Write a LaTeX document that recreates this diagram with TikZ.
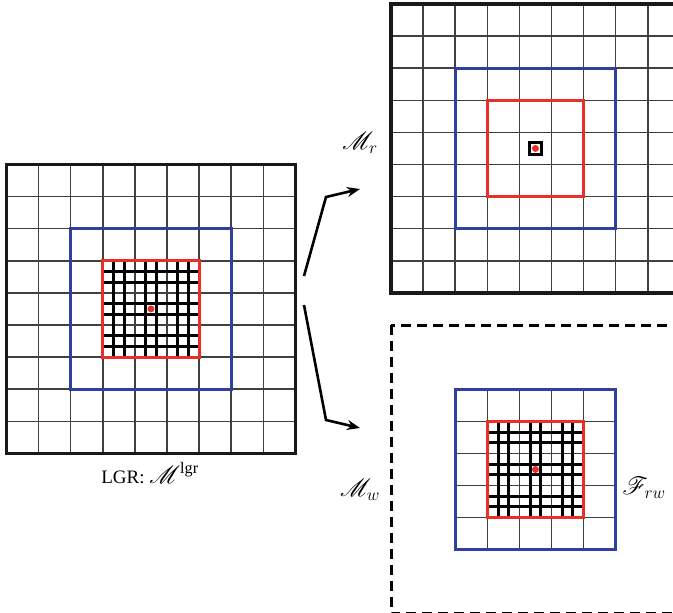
\documentclass[tikz,border=0pt]{standalone}
\usepackage{fontspec}
\setmainfont{Liberation Serif}
\usepackage{mathrsfs}
\usetikzlibrary{arrows.meta}
\definecolor{gblue}{RGB}{48,64,160}
\definecolor{gred}{RGB}{232,48,40}
\tikzset{
  thin grid/.style={line width=1.5pt, draw=black!75},
  fine grid/.style={line width=3pt, draw=black},
  outer box/.style={line width=3.2pt, draw=black!90},
  blue box/.style={line width=3pt, draw=gblue},
  red box/.style={line width=3pt, draw=gred},
  dot/.style={circle, fill=gred, inner sep=0pt, minimum size=7pt},
  lbl/.style={inner sep=0pt, font=\fontsize{19}{22}\selectfont},
  mlbl/.style={inner sep=0pt, font=\fontsize{23}{26}\selectfont},
  conn/.style={line width=2.6pt, -{Stealth[length=13pt,width=10pt]}}
}
\newcommand{\finelines}{%
  \foreach \k in {1,2,4,5,7,8}{
    \draw[fine grid] ({3+\k/3},3) -- ({3+\k/3},6);
    \draw[fine grid] (3,{3+\k/3}) -- (6,{3+\k/3});
  }}
\begin{document}
\begin{tikzpicture}[x=1pt,y=-1pt]
\useasboundingbox (0,0) rectangle (673,613);
\clip (0,0) rectangle (673,613);
% left grid (LGR)
\begin{scope}[shift={(6.5pt,-164.5pt)},x=32.1pt,y=-32.1pt]
  \foreach \i in {1,...,8}{
    \draw[thin grid] (\i,0) -- (\i,9);
    \draw[thin grid] (0,\i) -- (9,\i);
  }
  \finelines
  \draw[red box] (3,3) rectangle (6,6);
  \draw[blue box] (2,2) rectangle (7,7);
  \draw[outer box] (0,0) rectangle (9,9);
  \node[dot] (lc) at (4.5,4.5) {};
\end{scope}
% top right grid (M_r)
\begin{scope}[shift={(391pt,-4pt)},x=32.1pt,y=-32.1pt]
  \foreach \i in {1,...,8}{
    \draw[thin grid] (\i,0) -- (\i,9);
    \draw[thin grid] (0,\i) -- (9,\i);
  }
  \draw[red box] (3,3) rectangle (6,6);
  \draw[blue box] (2,2) rectangle (7,7);
  \draw[outer box] (0,0) rectangle (9,9);
  \draw[line width=2.8pt] (4.32,4.32) rectangle (4.68,4.68);
  \node[dot] (rc) at (4.5,4.5) {};
\end{scope}
% bottom right (M_w)
\begin{scope}[shift={(391pt,-325pt)},x=32.1pt,y=-32.1pt]
  \foreach \i in {3,...,6}{
    \draw[thin grid] (\i,2) -- (\i,7);
    \draw[thin grid] (2,\i) -- (7,\i);
  }
  \finelines
  \draw[red box] (3,3) rectangle (6,6);
  \draw[blue box] (2,2) rectangle (7,7);
  \draw[line width=3pt, dash pattern=on 10pt off 6pt] (0,0) rectangle (9,9);
  \node[dot] (wc) at (4.5,4.5) {};
\end{scope}
% labels
\node[lbl, anchor=base] (lgr) at (150,483) {LGR: {\fontsize{23}{26}\selectfont$\mathscr{M}^{\mathrm{lgr}}$}};
\node[mlbl] (mr) at (360,143) {$\mathscr{M}_r$};
\node[mlbl] (mw) at (360,490) {$\mathscr{M}_w$};
\node[mlbl] (frw) at (644,488) {$\mathscr{F}_{rw}$};
% connectors
\coordinate (a1) at (304,276);
\coordinate (a2) at (326,197);
\coordinate (a3) at (360,189);
\coordinate (b1) at (304,305);
\coordinate (b2) at (326,420);
\coordinate (b3) at (360,428);
\draw[conn] (a1) -- (a2) -- (a3);
\draw[conn] (b1) -- (b2) -- (b3);
\end{tikzpicture}
\end{document}
